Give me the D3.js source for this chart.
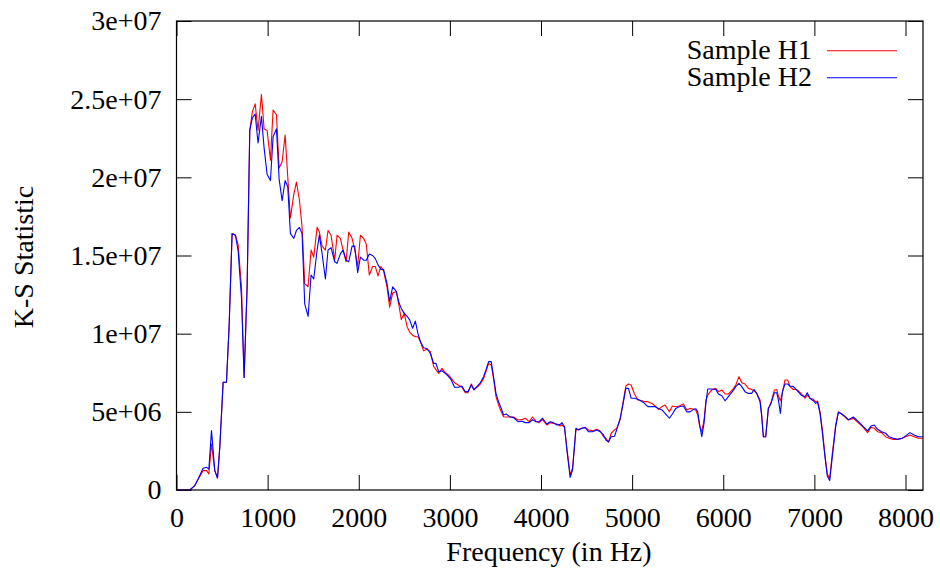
<!DOCTYPE html>
<html>
<head>
<meta charset="utf-8">
<script src="https://cdn.jsdelivr.net/npm/d3@7"></script>
<style>
  body { margin: 0; background: #fff; }
  svg { display: block; }
  text { font-family: "Liberation Serif", "DejaVu Serif", serif; fill: #000; }
</style>
</head>
<body>
<svg id="canvas" width="940" height="573"></svg>
<script>
// frequency bins (Hz)
const freqs = [0, 146, 201, 238, 292, 329, 355, 384, 420, 450, 475, 512, 548, 577, 610, 647, 676, 713, 742, 775,
    804, 833, 863, 895, 932, 961, 994, 1031, 1060, 1097, 1126, 1159, 1192, 1221, 1250, 1287, 1316, 1349, 1378, 1407,
    1444, 1477, 1506, 1543, 1568, 1598, 1634, 1663, 1696, 1736, 1762, 1798, 1828, 1861, 1890, 1927, 1956, 1988, 2018, 2054,
    2083, 2116, 2152, 2182, 2211, 2244, 2273, 2310, 2339, 2372, 2412, 2438, 2467, 2500, 2530, 2558, 2591, 2621, 2650, 2676,
    2712, 2749, 2785, 2822, 2847, 2877, 2913, 2950, 2986, 3015, 3052, 3096, 3132, 3169, 3198, 3235, 3264, 3297, 3334, 3370,
    3396, 3425, 3454, 3479, 3506, 3534, 3564, 3589, 3619, 3655, 3699, 3747, 3791, 3827, 3871, 3907, 3944, 3980, 4017, 4064,
    4101, 4137, 4174, 4211, 4229, 4258, 4284, 4320, 4346, 4383, 4412, 4449, 4485, 4521, 4565, 4613, 4649, 4686, 4712, 4741,
    4770, 4807, 4832, 4869, 4905, 4931, 4960, 4989, 5026, 5063, 5099, 5136, 5173, 5217, 5253, 5290, 5326, 5362, 5409, 5442,
    5479, 5516, 5563, 5600, 5636, 5673, 5700, 5720, 5742, 5764, 5789, 5811, 5830, 5874, 5918, 5947, 5984, 6020, 6056, 6100,
    6137, 6173, 6203, 6239, 6276, 6312, 6338, 6367, 6404, 6422, 6440, 6466, 6495, 6524, 6561, 6587, 6605, 6627, 6649, 6678,
    6707, 6732, 6769, 6805, 6853, 6897, 6922, 6952, 6988, 7014, 7036, 7062, 7087, 7116, 7142, 7168, 7197, 7234, 7263, 7300,
    7336, 7373, 7428, 7483, 7537, 7584, 7621, 7657, 7694, 7738, 7782, 7818, 7865, 7913, 7964, 8001, 8048, 8096, 8140, 8188]

// K-S statistic, in millions
const sampleH1 = [0, 0, 0.28, 0.7, 1.24, 1.24, 1.02, 2.94, 1.24, 0.77, 2.73, 6.89, 6.89, 10.4, 16.4, 16.3, 15.7, 13.0, 7.2, 13.0,
    23.0, 24.2, 24.7, 23.0, 25.3, 23.1, 23.0, 21.1, 24.3, 24.0, 20.6, 21.0, 22.7, 20.0, 17.4, 18.9, 19.7, 18.55, 16.8, 13.2,
    13.0, 15.35, 14.9, 16.8, 16.5, 15.6, 15.35, 16.6, 16.3, 14.7, 16.3, 16.1, 15.35, 14.6, 16.5, 16.1, 15.35, 14.3, 16.3, 16.1,
    15.7, 13.75, 14.3, 14.3, 13.7, 14.3, 14.0, 13.0, 11.7, 12.6, 12.7, 11.9, 10.9, 11.3, 10.45, 10.1, 9.9, 9.8, 9.8, 9.5,
    8.9, 9.0, 8.85, 7.9, 7.7, 7.46, 7.78, 7.5, 7.36, 7.14, 6.86, 6.7, 6.57, 6.22, 6.22, 6.78, 6.43, 6.57, 6.78, 7.14,
    7.57, 8.1, 8.0, 7.14, 5.97, 5.44, 5.0, 4.69, 4.67, 4.67, 4.67, 4.48, 4.5, 4.59, 4.37, 4.67, 4.4, 4.31, 4.5, 4.16,
    4.31, 4.26, 4.22, 4.1, 4.16, 4.0, 2.67, 0.96, 1.39, 3.84, 3.88, 3.95, 4.01, 3.84, 3.78, 3.88, 3.78, 3.41, 3.31, 3.05,
    3.63, 3.84, 3.95, 4.5, 5.76, 6.65, 6.78, 6.72, 6.14, 5.76, 5.73, 5.65, 5.65, 5.54, 5.37, 5.16, 5.33, 5.44, 5.0, 5.37,
    5.33, 5.37, 5.5, 5.12, 5.22, 5.16, 5.1, 4.8, 4.05, 3.73, 4.48, 5.76, 6.08, 6.4, 6.5, 6.29, 6.4, 6.14, 6.14, 6.4,
    6.72, 7.25, 6.86, 6.78, 6.5, 6.43, 6.35, 6.18, 5.76, 4.8, 3.41, 3.41, 5.22, 5.58, 6.4, 6.43, 6.01, 5.71, 6.22, 7.04,
    7.04, 6.61, 6.43, 6.43, 6.18, 5.87, 6.08, 5.87, 5.8, 5.65, 5.69, 5.0, 3.84, 2.24, 1.02, 0.75, 2.35, 4.16, 5.0, 4.86,
    4.67, 4.48, 4.58, 4.3, 4.01, 3.67, 4.01, 3.95, 3.73, 3.67, 3.41, 3.31, 3.24, 3.24, 3.31, 3.41, 3.52, 3.41, 3.31, 3.31]

const sampleH2 = [0, 0, 0.28, 0.7, 1.39, 1.45, 1.34, 3.8, 1.24, 0.77, 2.73, 6.89, 6.89, 10.4, 16.4, 16.3, 15.3, 12.3, 7.2, 13.0,
    23.0, 23.8, 24.05, 22.2, 23.9, 21.9, 20.2, 19.8, 22.6, 23.1, 19.9, 18.5, 19.8, 19.4, 16.4, 16.1, 16.6, 16.8, 16.4, 11.9,
    11.1, 13.75, 13.5, 15.35, 16.3, 15.1, 13.5, 15.35, 15.5, 14.6, 14.5, 15.1, 15.35, 14.7, 14.6, 15.6, 15.6, 13.9, 14.9, 14.7,
    14.7, 15.1, 15.0, 14.8, 14.4, 14.1, 14.1, 13.2, 12.05, 13.0, 12.7, 12.05, 11.6, 11.3, 11.1, 10.9, 10.35, 10.8, 10.0, 9.5,
    9.1, 9.05, 8.75, 8.1, 8.1, 7.57, 7.63, 7.46, 7.25, 7.04, 6.57, 6.57, 6.65, 6.29, 6.29, 6.72, 6.4, 6.61, 6.86, 7.25,
    7.68, 8.21, 8.21, 7.25, 6.18, 5.65, 5.22, 4.8, 4.86, 4.69, 4.63, 4.37, 4.4, 4.31, 4.31, 4.5, 4.37, 4.37, 4.59, 4.22,
    4.37, 4.31, 4.16, 4.2, 4.31, 4.05, 2.56, 0.81, 1.28, 3.95, 3.84, 3.95, 3.99, 3.73, 3.73, 3.84, 3.73, 3.52, 3.2, 3.09,
    3.41, 3.44, 3.88, 4.59, 5.65, 6.5, 6.5, 5.87, 5.87, 5.8, 5.69, 5.54, 5.33, 5.33, 5.33, 5.22, 5.12, 4.9, 4.59, 4.86,
    5.22, 5.33, 5.37, 5.0, 5.0, 5.16, 5.2, 5.0, 4.16, 3.41, 4.26, 5.65, 6.46, 6.46, 6.43, 6.14, 6.03, 5.71, 5.97, 6.29,
    6.61, 6.82, 6.61, 6.29, 6.18, 6.18, 6.43, 6.18, 5.65, 4.69, 3.41, 3.41, 5.22, 5.54, 6.22, 6.22, 5.76, 4.9, 6.29, 6.78,
    6.78, 6.65, 6.61, 6.4, 6.08, 5.97, 6.22, 5.87, 5.71, 5.54, 5.61, 4.9, 3.73, 2.13, 0.9, 0.6, 2.13, 4.05, 4.97, 4.86,
    4.71, 4.5, 4.67, 4.37, 4.05, 3.78, 4.09, 4.16, 3.88, 3.73, 3.63, 3.41, 3.31, 3.24, 3.31, 3.46, 3.67, 3.52, 3.41, 3.41]

const xTicks = [0, 1000, 2000, 3000, 4000, 5000, 6000, 7000, 8000]
const yTicks = [0, 5e6, 1e7, 1.5e7, 2e7, 2.5e7, 3e7]
const yTickLabels = ['0', '5e+06', '1e+07', '1.5e+07', '2e+07', '2.5e+07', '3e+07']
const seriesNames = ['Sample H1', 'Sample H2']
const seriesColors = ['#ff0000', '#0000ff']

const margin = { top: 21, right: 17, bottom: 83, left: 176.5 }
const W = 940, H = 573
const innerW = W - margin.left - margin.right
const innerH = H - margin.top - margin.bottom

let svg = d3.select('#canvas')
let g = svg.append('g').attr('transform', 'translate(' + margin.left + ',' + margin.top + ')')

let xScale = d3.scaleLinear().domain([0, 8192]).range([0, innerW])
let yScale = d3.scaleLinear().domain([0, 3e7]).range([innerH, 0])

const FS = '28px'
const TICK = 15

// bottom axis with labels
let xAxis = d3.axisBottom(xScale).tickValues(xTicks).tickFormat(d3.format('d'))
    .tickSizeInner(-TICK).tickSizeOuter(0).tickPadding(17)
let gx = g.append('g').attr('transform', 'translate(0,' + innerH + ')').call(xAxis)
gx.selectAll('text').style('font-size', FS).style('font-family', '"Liberation Serif", serif')

// top mirror
g.append('g').call(d3.axisTop(xScale).tickValues(xTicks).tickFormat('').tickSizeInner(-TICK).tickSizeOuter(0))

// left axis
let yAxis = d3.axisLeft(yScale).tickValues(yTicks).tickFormat((d, i) => yTickLabels[i])
    .tickSizeInner(-TICK).tickSizeOuter(0).tickPadding(15)
let gy = g.append('g').call(yAxis)
gy.selectAll('text').style('font-size', FS).style('font-family', '"Liberation Serif", serif')

// right mirror
g.append('g').attr('transform', 'translate(' + innerW + ',0)')
    .call(d3.axisRight(yScale).tickValues(yTicks).tickFormat('').tickSizeInner(-TICK).tickSizeOuter(0))

g.selectAll('.domain').remove()
g.selectAll('.tick line').attr('stroke', '#000').attr('stroke-width', 1)

// series lines
let lineGen = d3.line()
    .x((d) => xScale(d[0]))
    .y((d) => yScale(d[1] * 1e6))

let allSeries = [sampleH1, sampleH2]
allSeries.forEach((vals, i) => {
    let pts = freqs.map((f, j) => [f, vals[j]])
    g.append('path')
        .datum(pts)
        .attr('fill', 'none')
        .attr('stroke', seriesColors[i])
        .attr('stroke-width', 1.1)
        .attr('stroke-linejoin', 'round')
        .attr('d', lineGen)
})

// border
g.append('rect')
    .attr('x', 0).attr('y', 0)
    .attr('width', innerW).attr('height', innerH)
    .attr('fill', 'none').attr('stroke', '#000').attr('stroke-width', 1.2)

// legend
let legend = g.append('g')
seriesNames.forEach((name, i) => {
    let ly = 29.7 + i * 27
    legend.append('text')
        .attr('x', 812 - margin.left)
        .attr('y', ly + 8.5)
        .attr('text-anchor', 'end')
        .style('font-size', FS)
        .text(name)
    legend.append('line')
        .attr('x1', 827 - margin.left).attr('x2', 897 - margin.left)
        .attr('y1', ly).attr('y2', ly)
        .attr('stroke', seriesColors[i])
        .attr('stroke-width', 1.1)
})

// axis titles
svg.append('text')
    .attr('x', 549).attr('y', 561)
    .attr('text-anchor', 'middle')
    .style('font-size', FS)
    .text('Frequency (in Hz)')

svg.append('text')
    .attr('transform', 'translate(33,257) rotate(-90)')
    .attr('text-anchor', 'middle')
    .style('font-size', FS)
    .text('K-S Statistic')
</script>
</body>
</html>
